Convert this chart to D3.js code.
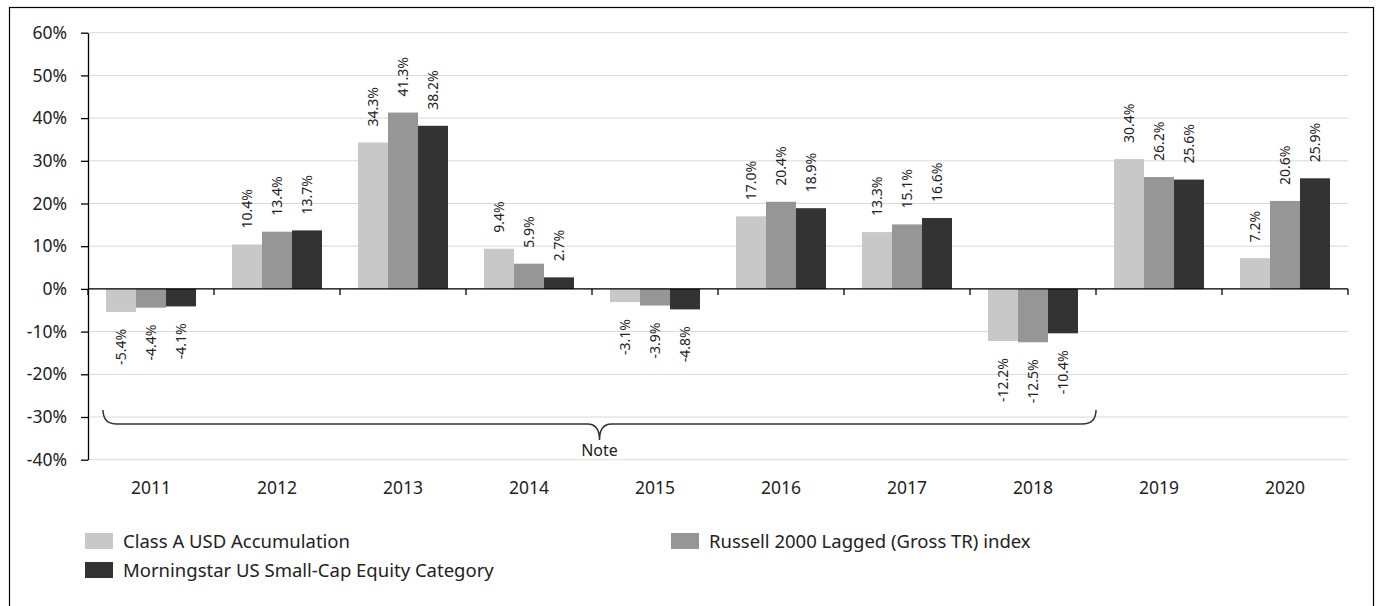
<!DOCTYPE html>
<html><head><meta charset="utf-8">
<script src="https://cdn.jsdelivr.net/npm/d3@7"></script>
<style>
body{margin:0;background:#fff;}
svg{display:block;font-family:"Noto Sans","Open Sans",sans-serif;}
</style></head>
<body><svg id="c" width="1380" height="606"></svg>
<script>
const years = ["2011","2012","2013","2014","2015","2016","2017","2018","2019","2020"];
const seriesNames = ["Class A USD Accumulation","Russell 2000 Lagged (Gross TR) index","Morningstar US Small-Cap Equity Category"];
const classA = [-5.4,10.4,34.3,9.4,-3.1,17.0,13.3,-12.2,30.4,7.2];
const russell = [-4.4,13.4,41.3,5.9,-3.9,20.4,15.1,-12.5,26.2,20.6];
const morningstar = [-4.1,13.7,38.2,2.7,-4.8,18.9,16.6,-10.4,25.6,25.9];
const colors = ["#c8c8c8","#969696","#333333"];
const yTicks = [-40,-30,-20,-10,0,10,20,30,40,50,60];
const noteLabel = "Note";

(function(){
const svg = d3.select("#c");
const L = 88, R = 1348, T = 32.7, B = 459.7;

svg.append("rect").attr("x",9.5).attr("y",7.5).attr("width",1364).attr("height",640)
  .attr("fill","none").attr("stroke","#000").attr("stroke-width",1.2);

const x = d3.scaleBand().domain(years).range([L,R]).padding(0);
const y = d3.scaleLinear().domain([-40,60]).range([B,T]);
const xs = d3.scaleBand().domain([0,1,2]).range([18, x.bandwidth()-18]).padding(0);

svg.append("g").selectAll("line").data(yTicks).join("line")
  .attr("x1",L).attr("x2",R).attr("y1",d=>y(d)).attr("y2",d=>y(d))
  .attr("stroke","#d9d9d9").attr("stroke-width",1);

const data = [classA,russell,morningstar];
const g = svg.append("g");
years.forEach((yr,i)=>{
  data.forEach((s,j)=>{
    const v = s[i];
    const bx = x(yr)+xs(j);
    g.append("rect").attr("x",bx).attr("width",xs.bandwidth())
      .attr("y",y(Math.max(0,v))).attr("height",Math.abs(y(v)-y(0)))
      .attr("fill",colors[j]);
    const cx = bx + xs.bandwidth()/2;
    const ly = v>=0 ? y(v)-16 : y(v)+17;
    g.append("text").attr("transform",`translate(${cx},${ly}) rotate(-90)`)
      .attr("text-anchor", v>=0 ? "start":"end").attr("dy","0.35em")
      .attr("font-size",14).attr("fill","#222")
      .text(v.toFixed(1)+"%");
  });
});

const ya = svg.append("g").attr("transform",`translate(${L},0)`)
  .call(d3.axisLeft(y).tickValues(yTicks).tickFormat(d=>d+"%").tickSize(7).tickSizeOuter(0));
ya.select(".domain").attr("stroke","#000").attr("stroke-width",1.3);
ya.selectAll(".tick line").attr("stroke","#000").attr("stroke-width",1.3);
ya.selectAll("text").attr("font-size",17.5).attr("fill","#222").attr("font-family","Noto Sans").attr("x",-21);

const xa = svg.append("g").attr("transform",`translate(0,${y(0)})`);
xa.append("line").attr("x1",L).attr("x2",R).attr("stroke","#000").attr("stroke-width",1.3);
const bounds = years.map(d=>x(d)).concat([R]);
xa.selectAll("line.t").data(bounds).join("line").attr("class","t")
  .attr("x1",d=>d).attr("x2",d=>d).attr("y1",0).attr("y2",6).attr("stroke","#000").attr("stroke-width",1.3);

svg.append("g").selectAll("text").data(years).join("text")
  .attr("x",d=>x(d)+x.bandwidth()/2).attr("y",493.5).attr("text-anchor","middle")
  .attr("font-size",17.5).attr("fill","#222").text(d=>d);

const bL = 103, bR = 1096, bm = (bL+bR)/2;
const yTop = 410, yMid = 424, yTip = 440;
const p = d3.path();
p.moveTo(bL,yTop); p.quadraticCurveTo(bL,yMid,bL+14,yMid);
p.lineTo(bm-12,yMid); p.quadraticCurveTo(bm,yMid,bm,yTip);
p.quadraticCurveTo(bm,yMid,bm+12,yMid);
p.lineTo(bR-14,yMid); p.quadraticCurveTo(bR,yMid,bR,yTop);
svg.append("path").attr("d",p.toString()).attr("fill","none").attr("stroke","#333").attr("stroke-width",1.5);
svg.append("text").attr("x",bm).attr("y",455.5).attr("text-anchor","middle")
  .attr("font-size",16).attr("fill","#222").text(noteLabel);

const legPos = [[85,533],[671,533],[85,562]];
seriesNames.forEach((n,j)=>{
  const [lx,ly] = legPos[j];
  svg.append("rect").attr("x",lx).attr("y",ly).attr("width",28).attr("height",16).attr("fill",colors[j]);
  svg.append("text").attr("x",lx+38).attr("y",ly+14.5).attr("font-size",18.5).attr("fill","#222").text(n);
});
})();
</script></body></html>
